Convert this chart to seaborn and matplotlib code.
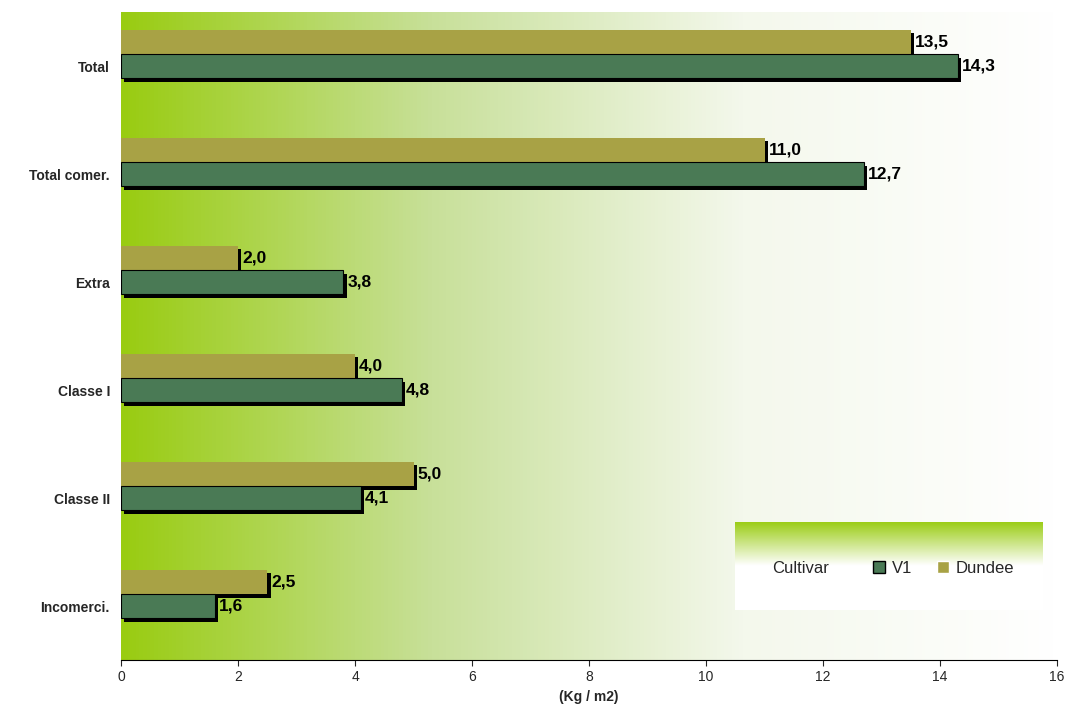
import numpy as np
import pandas as pd
import seaborn as sns
from matplotlib import pyplot as plt
from matplotlib import patheffects as pe
from matplotlib.colors import LinearSegmentedColormap
from matplotlib.patches import Patch

categories = ['Total', 'Total comer.', 'Extra', 'Classe I', 'Classe II', 'Incomerci.']
v1 = [14.3, 12.7, 3.8, 4.8, 4.1, 1.6]
dundee = [13.5, 11.0, 2.0, 4.0, 5.0, 2.5]

C_V1 = '#4a7a55'
C_DUN = '#a8a245'

df = pd.DataFrame({
    'cat': categories * 2,
    'val': dundee + v1,
    'cultivar': ['Dundee'] * 6 + ['V1'] * 6,
})

sns.set_style('white')
plt.rcParams['font.family'] = ['Liberation Sans', 'DejaVu Sans']
fig = plt.figure(figsize=(10.68, 7.22), dpi=100)
ax = fig.add_axes([121 / 1068, 62 / 722, 936 / 1068, 648 / 722])

bg = LinearSegmentedColormap.from_list('bg', ['#99cc11', '#c8e09a', '#f4f8ec', '#ffffff'])
ax.imshow(np.linspace(0, 1, 256)[None, :], cmap=bg, aspect='auto',
          extent=(0, 16, 5.61, -0.39), zorder=0)

sns.barplot(data=df, y='cat', x='val', hue='cultivar', hue_order=['Dundee', 'V1'],
            palette={'Dundee': C_DUN, 'V1': C_V1}, orient='h', width=0.45,
            ax=ax, legend=False, zorder=2, linewidth=0, saturation=1)
for p in ax.patches:
    p.set_path_effects([pe.SimplePatchShadow(offset=(2.5, -2.5), shadow_rgbFace='black', alpha=1), pe.Normal()])
for p in ax.containers[1]:
    p.set_edgecolor('black')
    p.set_linewidth(0.8)
for c in ax.containers:
    ax.bar_label(c, labels=[f'{v:.1f}'.replace('.', ',') for v in c.datavalues],
                 fontsize=12.5, fontweight='bold', padding=3, color='black')

ax.set_xlim(0, 16)
ax.set_ylim(5.61, -0.39)
ax.set_yticks([i + 0.11 for i in range(len(categories))], categories)
ax.set_xticks(range(0, 17, 2))
ax.set_xlabel('(Kg / m2)', fontsize=10, fontweight='bold')
ax.set_ylabel('')
ax.tick_params(axis='y', length=0, pad=8)
ax.tick_params(axis='x', length=4, bottom=True, labelsize=10)
for lab in ax.get_yticklabels():
    lab.set_fontweight('bold')
    lab.set_fontsize(10)
for s in ['top', 'right', 'left']:
    ax.spines[s].set_visible(False)
ax.spines['bottom'].set_color('black')

lax = fig.add_axes([735 / 1068, 112 / 722, 308 / 1068, 88 / 722])
lg = LinearSegmentedColormap.from_list('lg', ['#99cc11', '#ffffff', '#ffffff'])
lax.imshow(np.linspace(0, 1, 256)[:, None], cmap=lg, aspect='auto', extent=(0, 1, 0, 1))
lax.set_axis_off()
lax.text(0.12, 0.47, 'Cultivar', fontsize=12, va='center', transform=lax.transAxes)
lax.legend(handles=[Patch(facecolor=C_V1, edgecolor='black', label='V1'),
                    Patch(facecolor=C_DUN, label='Dundee')],
           ncol=2, frameon=False, fontsize=12, loc='center left',
           bbox_to_anchor=(0.4, 0.47), handlelength=0.7, handleheight=0.7,
           columnspacing=1.5, handletextpad=0.4)

fig.savefig('out.png', dpi=100)
